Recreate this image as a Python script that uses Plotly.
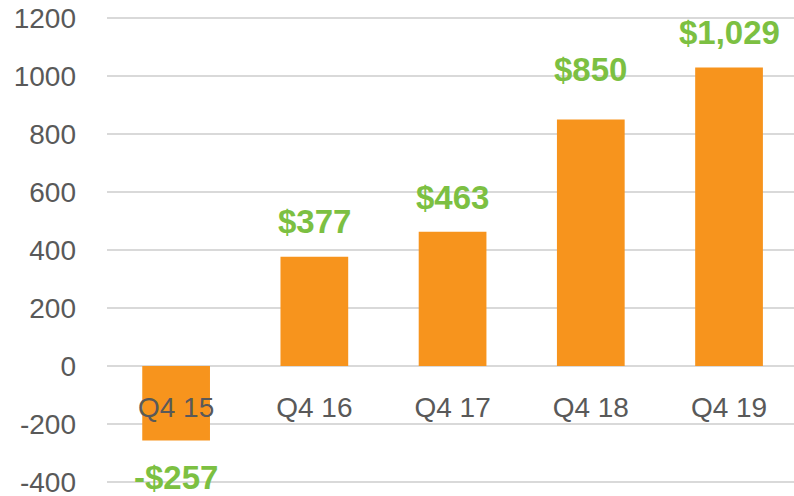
import plotly.graph_objects as go

categories = ["Q4 15", "Q4 16", "Q4 17", "Q4 18", "Q4 19"]
values = [-257, 377, 463, 850, 1029]
y_ticks = [-400, -200, 0, 200, 400, 600, 800, 1000, 1200]
y_tick_labels = [str(v) for v in y_ticks]

# styling: vertical pixel offsets of the value labels from bar ends
label_shift = [-37, 35, 34, 50, 35]

BAR = "#F7941D"
GREEN = "#7CC042"
GRAY = "#595959"
FONT = "Liberation Sans"

Y_RANGE = [-410, 1210]


def fmt(v):
    return f"-${abs(v):,}" if v < 0 else f"${v:,}"


fig = go.Figure()
fig.add_trace(go.Bar(x=categories, y=values, marker=dict(color=BAR, line=dict(width=0)),
                     width=0.49, hoverinfo="skip"))

for c, v, s in zip(categories, values, label_shift):
    fig.add_annotation(x=c, y=v, yshift=s, text=fmt(v), showarrow=False,
                       font=dict(family=FONT, size=33, color=GREEN, weight="bold"),
                       xanchor="center", yanchor="middle")

fig.update_layout(
    width=794, height=496,
    margin=dict(l=107, r=0, t=15, b=11),
    paper_bgcolor="white", plot_bgcolor="white",
    showlegend=False,
    font=dict(family=FONT, color=GRAY, size=28),
    xaxis=dict(type="category", range=[-0.5, 4.47], anchor="free",
               position=-Y_RANGE[0] / (Y_RANGE[1] - Y_RANGE[0]),
               showline=False, showgrid=False, zeroline=False, ticks="", automargin=False,
               ticklabelstandoff=22, tickfont=dict(size=28, color=GRAY)),
    yaxis=dict(range=Y_RANGE, tickvals=y_ticks, ticktext=y_tick_labels,
               showgrid=True, gridcolor="#D9D9D9", automargin=False,
               gridwidth=1.5, zeroline=True, zerolinecolor="#D9D9D9", zerolinewidth=1.5,
               showline=False, ticks="", ticklabelstandoff=30, ticklabeloverflow="allow",
               tickfont=dict(size=28, color=GRAY)),
)

fig.write_html("out.html", config={"displayModeBar": False},
               post_script="document.body.style.margin='0';document.body.style.overflow='hidden';")
